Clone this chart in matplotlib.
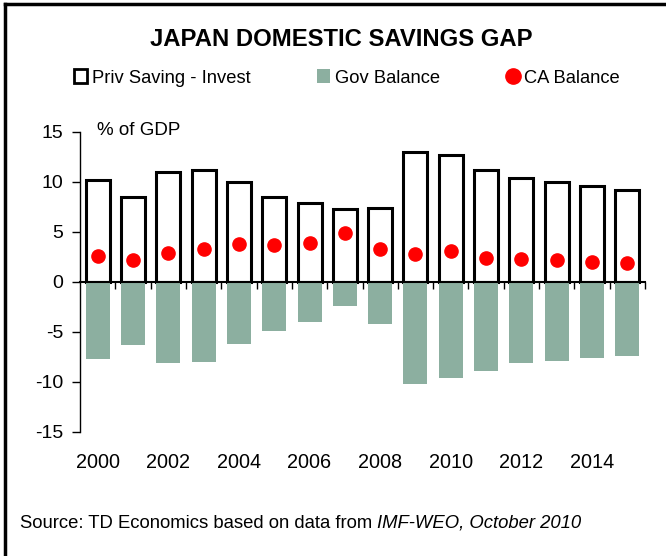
import matplotlib
matplotlib.use("Agg")
import matplotlib.pyplot as plt
from matplotlib.patches import Patch
from matplotlib.lines import Line2D
import numpy as np

plt.rcParams['font.family'] = ['Liberation Sans', 'DejaVu Sans']

years = list(range(2000, 2016))
priv_saving = [10.2, 8.5, 11.0, 11.2, 10.0, 8.5, 7.9, 7.3, 7.4, 13.0, 12.7, 11.2, 10.4, 10.0, 9.6, 9.2]
gov_balance = [-7.7, -6.3, -8.1, -8.0, -6.2, -4.9, -4.0, -2.35, -4.15, -10.2, -9.6, -8.9, -8.1, -7.9, -7.6, -7.4]
ca_balance = [2.6, 2.2, 2.9, 3.3, 3.8, 3.7, 3.9, 4.9, 3.3, 2.8, 3.1, 2.4, 2.3, 2.2, 2.0, 1.9]
label_years = [2000, 2002, 2004, 2006, 2008, 2010, 2012, 2014]
y_ticks = [-15, -10, -5, 0, 5, 10, 15]

green = '#8CAFA0'

W, H = 666, 556
fig = plt.figure(figsize=(W/100, H/100), dpi=100)
ax = fig.add_axes([80/W, 1-432/H, (645-80)/W, 300/H])

x = np.arange(len(years))
bw = 0.68
ax.bar(x, priv_saving, width=bw, facecolor='white', edgecolor='black', linewidth=2.2, zorder=2)
ax.bar(x, gov_balance, width=bw, color=green, zorder=3)
ax.plot(x, ca_balance, 'o', color='#FF0000', markersize=9.5, zorder=5)

ax.set_xlim(-0.5, len(years)-0.5)
ax.set_ylim(-15, 15)
ax.set_yticks(y_ticks)
ax.set_yticklabels([str(v) for v in y_ticks])
ax.tick_params(axis='y', direction='out', length=6, width=1, labelsize=14, pad=6)

for s in ['top', 'right']:
    ax.spines[s].set_visible(False)
ax.spines['left'].set_linewidth(1)
ax.spines['bottom'].set_position(('data', 0))
ax.spines['bottom'].set_linewidth(1.5)
ax.spines['bottom'].set_zorder(4)
ax.set_xticks(np.arange(0.5, len(years)-0.4, 1.0))
ax.set_xticklabels([])
ax.tick_params(axis='x', direction='out', length=5, width=1)

sec = ax.secondary_xaxis(0)
sec.set_xticks([years.index(y) for y in label_years])
sec.set_xticklabels([str(y) for y in label_years])
sec.tick_params(axis='x', length=0, pad=15, labelsize=14.3)
sec.spines['bottom'].set_visible(False)

ax.text(0.030, 1.005, '% of GDP', transform=ax.transAxes, fontsize=13.5, va='center', ha='left')

fig.text(341/W, 1-39/H, 'JAPAN DOMESTIC SAVINGS GAP', fontsize=17.2, fontweight='bold', ha='center', va='center')

handles = [Patch(facecolor='white', edgecolor='black', linewidth=2),
           Patch(facecolor=green, edgecolor='none'),
           Line2D([], [], marker='o', color='#FF0000', linestyle='none', markersize=11)]
labels = ['Priv Saving - Invest', 'Gov Balance', 'CA Balance']
fig.legend(handles, labels, loc='center', bbox_to_anchor=(347/W, 1-78/H), ncol=3, frameon=False,
           fontsize=13.2, handlelength=0.75, handleheight=0.75, handletextpad=0.25, columnspacing=3.6)

src = fig.text(20/W, 1-523/H, 'Source: TD Economics based on data from ', fontsize=13.3, ha='left', va='center')
fig.canvas.draw()
r = src.get_window_extent()
fig.text(r.x1/W, 1-523/H, 'IMF-WEO, October 2010', fontsize=13.3, style='italic', ha='left', va='center')

# frame lines on left and top
fig.add_artist(Line2D([5/W, 5/W], [0, 1-4/H], color='black', linewidth=2.5, transform=fig.transFigure))
fig.add_artist(Line2D([5/W, 1], [1-4/H, 1-4/H], color='black', linewidth=2.5, transform=fig.transFigure))

fig.savefig('out.png', dpi=100)
